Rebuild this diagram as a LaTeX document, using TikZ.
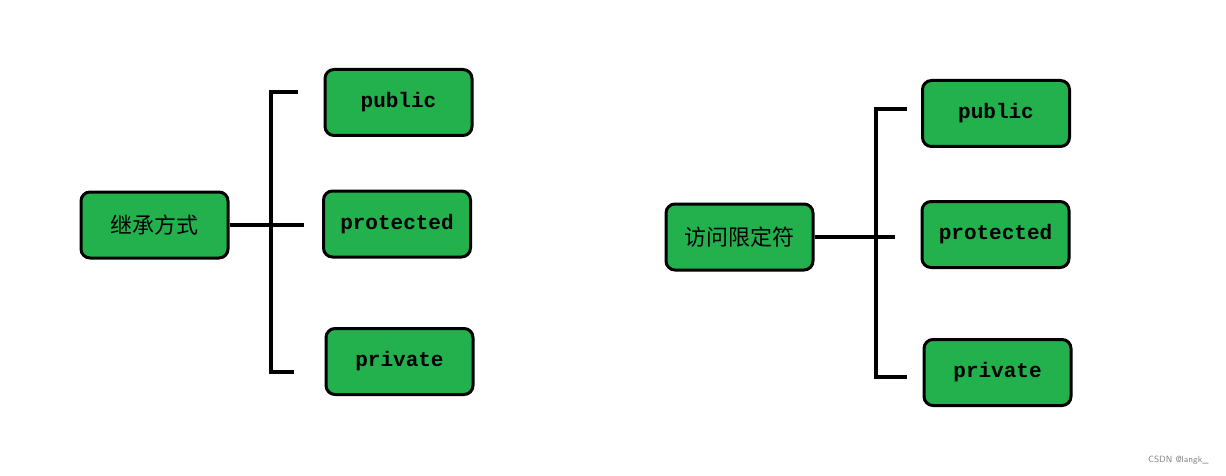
\documentclass[tikz,border=0pt]{standalone}
\usepackage{fontspec}
\newfontfamily\cjk{Noto Sans CJK SC}
\newfontfamily\codefont{Liberation Mono}
\usetikzlibrary{positioning}
\definecolor{paintgreen}{HTML}{22B14C}

\tikzset{
  box/.style={draw, line width=3pt, fill=paintgreen, rounded corners=9pt,
    minimum width=147pt, minimum height=66pt, inner sep=0pt},
  kw/.style={box, font=\codefont\bfseries\fontsize{21}{24}\selectfont},
  root/.style={box, font=\cjk\fontsize{22}{26}\selectfont},
  bar/.style={line width=3.5pt}
}

\begin{document}
\begin{tikzpicture}[x=1pt, y=-1pt]
\useasboundingbox (0,0) rectangle (1226,476);

% left tree
\node[root] (inh) at (154.5,225) {继承方式};
\node[kw] (lpub) at (398.5,102.5) {public};
\node[kw] (lpro) at (397,224) {protected};
\node[kw] (lpri) at (399.5,361.5) {private};
\coordinate (ltop) at (271,92);
\coordinate (lbot) at (271,372);
\draw[bar] (298,92) -- (ltop) -- (lbot) -- (294,372);
\draw[bar] (inh.east) -- (304,225);

% right tree
\node[root] (acc) at (739.5,237) {访问限定符};
\node[kw] (rpub) at (996,113.5) {public};
\node[kw] (rpro) at (995.5,234.5) {protected};
\node[kw] (rpri) at (997.5,372.5) {private};
\coordinate (rtop) at (876,109);
\coordinate (rbot) at (876,377);
\draw[bar] (907,109) -- (rtop) -- (rbot) -- (907,377);
\draw[bar] (acc.east) -- (895,237);

\node[text=gray, font=\sffamily\fontsize{9}{10}\selectfont, anchor=east] (mark) at (1212,460) {CSDN @langk\_};
\end{tikzpicture}
\end{document}
